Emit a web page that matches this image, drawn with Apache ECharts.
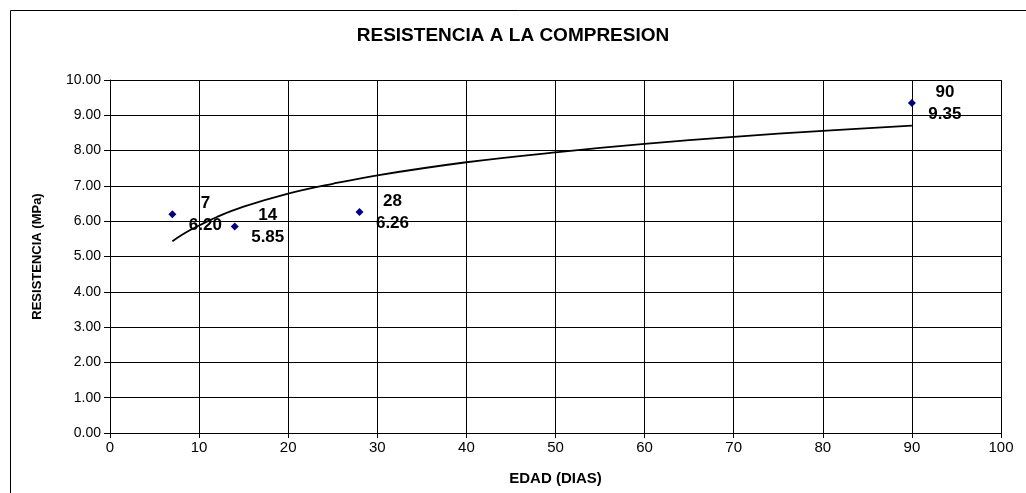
<!DOCTYPE html>
<html>
<head>
<meta charset="utf-8">
<style>
  html, body { margin: 0; padding: 0; background: #fff; }
  #chart { width: 1026px; height: 493px; }
</style>
<script src="https://cdn.jsdelivr.net/npm/echarts@6/dist/echarts.min.js"></script>
</head>
<body>
<div id="chart"></div>
<script>
// ensayos
const edades = [7, 14, 28, 90];
const resistencias = [6.20, 5.85, 6.26, 9.35];

// curva de tendencia
const tendEdad = [7, 8, 9, 10, 12, 15, 20, 25, 30, 40, 50, 60, 70, 80, 90];
const tendValor = [5.43, 5.60, 5.75, 5.88, 6.12, 6.41, 6.78, 7.06, 7.30, 7.67, 7.95, 8.19, 8.39, 8.56, 8.71];

const FONT = 'Liberation Sans, Arial, sans-serif';

const chart = echarts.init(document.getElementById('chart'));

const option = {
    animation: false,
    title: {
        text: 'RESISTENCIA A LA COMPRESION',
        left: 'center',
        top: 21,
        textStyle: { fontFamily: FONT, fontSize: 19, fontWeight: 'bold', color: '#000' }
    },
    graphic: [{
        type: 'rect',
        shape: { x: 10.5, y: 10.5, width: 1100, height: 1000 },
        style: { fill: 'none', stroke: '#000', lineWidth: 1 },
        silent: true
    }],
    grid: { left: 110, right: 25, top: 80, bottom: 60 },
    xAxis: {
        type: 'value',
        min: 0, max: 100, interval: 10,
        name: 'EDAD (DIAS)',
        nameLocation: 'center',
        nameGap: 38,
        nameTextStyle: { fontFamily: FONT, fontSize: 15, fontWeight: 'bold', color: '#000' },
        axisLine: { lineStyle: { color: '#000', width: 1 } },
        axisTick: { show: true, length: 5, lineStyle: { color: '#000' } },
        axisLabel: { fontFamily: FONT, fontSize: 15, color: '#000', margin: 7 },
        splitLine: { show: true, lineStyle: { color: '#000', width: 1 } }
    },
    yAxis: {
        type: 'value',
        min: 0, max: 10, interval: 1,
        name: 'RESISTENCIA (MPa)',
        nameLocation: 'center',
        nameGap: 66,
        nameTextStyle: { fontFamily: FONT, fontSize: 13, fontWeight: 'bold', color: '#000' },
        axisLine: { show: true, lineStyle: { color: '#000', width: 1 } },
        axisTick: { show: true, length: 6, lineStyle: { color: '#000' } },
        axisLabel: {
            fontFamily: FONT, fontSize: 14, color: '#000', margin: 9,
            formatter: v => v.toFixed(2)
        },
        splitLine: { show: true, lineStyle: { color: '#000', width: 1 } }
    },
    series: [
        {
            name: 'Tendencia',
            type: 'line',
            data: tendEdad.map((x, i) => [x, tendValor[i]]),
            smooth: 0.4,
            symbol: 'none',
            lineStyle: { color: '#000', width: 1.8 },
            z: 3
        },
        {
            name: 'Resistencia',
            type: 'scatter',
            data: edades.map((x, i) => [x, resistencias[i]]),
            symbol: 'diamond',
            symbolSize: 8,
            itemStyle: { color: '#000080', opacity: 1 },
            label: {
                show: true,
                position: 'right',
                distance: 13,
                offset: [16, 0],
                align: 'center',
                formatter: p => p.value[0] + '\n' + p.value[1].toFixed(2),
                fontFamily: FONT,
                fontSize: 17,
                fontWeight: 'bold',
                lineHeight: 22,
                color: '#000',
                opacity: 1,
                textBorderWidth: 0
            },
            z: 4
        }
    ]
};

chart.setOption(option);
</script>
</body>
</html>
